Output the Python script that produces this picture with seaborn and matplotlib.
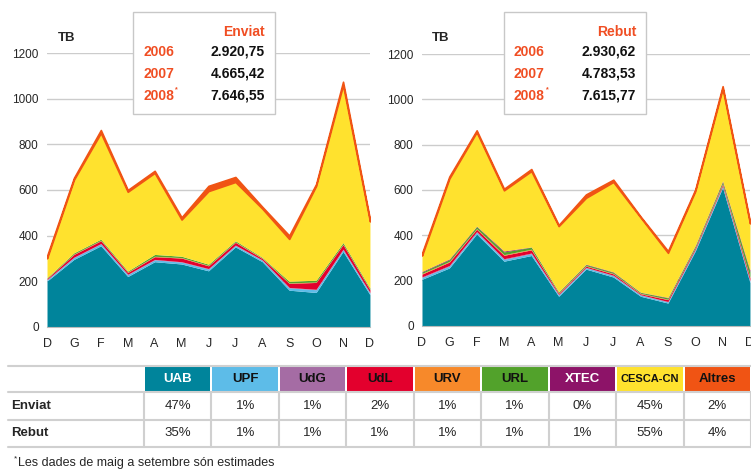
import numpy as np
import pandas as pd
import seaborn as sns
import matplotlib.pyplot as plt
from matplotlib.patches import Rectangle

# months: Dec 2007 .. Dec 2008
months = ["D", "G", "F", "M", "A", "M", "J", "J", "A", "S", "O", "N", "D"]
institutions = ["UAB", "UPF", "UdG", "UdL", "URV", "URL", "XTEC", "CESCA-CN", "Altres"]
colors = ["#00849B", "#5DBCE8", "#A56CA4", "#E3002D", "#F7892A",
          "#52A22B", "#8D1368", "#FFE22E", "#F05414"]

# Enviat (TB per month)
env_uab = [200, 295, 355, 220, 285, 275, 245, 350, 285, 160, 150, 330, 140]
env_upf = [5, 8, 8, 8, 8, 8, 8, 6, 6, 10, 12, 8, 8]
env_udg = [2, 2, 2, 2, 2, 2, 2, 2, 2, 2, 2, 2, 2]
env_udl = [4, 12, 12, 8, 12, 16, 12, 12, 6, 18, 30, 20, 12]
env_urv = [1, 2, 2, 2, 2, 2, 2, 2, 2, 2, 2, 2, 2]
env_url = [3, 5, 5, 4, 8, 6, 5, 5, 3, 7, 8, 7, 5]
env_xtec = [0, 0, 0, 0, 0, 0, 0, 0, 0, 0, 0, 0, 0]
env_cesca = [85, 321, 466, 348, 358, 161, 321, 258, 214, 186, 414, 691, 293]
env_altres = [10, 8, 13, 8, 9, 10, 23, 22, 8, 15, 8, 15, 9]

# Rebut
reb_uab = [205, 255, 405, 285, 310, 130, 250, 215, 130, 100, 330, 610, 190]
reb_upf = [8, 8, 8, 8, 8, 6, 6, 6, 5, 5, 6, 6, 6]
reb_udg = [3, 3, 3, 3, 3, 2, 2, 2, 2, 2, 2, 3, 3]
reb_udl = [12, 15, 10, 15, 14, 5, 5, 6, 4, 8, 6, 6, 12]
reb_urv = [3, 3, 3, 3, 3, 2, 2, 2, 2, 2, 2, 3, 3]
reb_url = [6, 8, 9, 12, 9, 4, 5, 5, 4, 6, 6, 8, 25]
reb_xtec = [3, 3, 2, 4, 1, 1, 2, 2, 1, 2, 3, 4, 6]
reb_cesca = [70, 355, 415, 268, 335, 290, 293, 397, 330, 197, 240, 408, 207]
reb_altres = [10, 9, 8, 7, 9, 5, 15, 10, 4, 8, 7, 10, 8]

years = ["2006", "2007", "2008"]
env_totals = ["2.920,75", "4.665,42", "7.646,55"]
reb_totals = ["2.930,62", "4.783,53", "7.615,77"]

pct_enviat = ["47%", "1%", "1%", "2%", "1%", "1%", "0%", "45%", "2%"]
pct_rebut = ["35%", "1%", "1%", "1%", "1%", "1%", "1%", "55%", "4%"]
header_text = ["white", "#111111", "#111111", "#111111", "#111111",
               "#111111", "white", "#111111", "#111111"]

enviat = pd.DataFrame(dict(zip(institutions, [env_uab, env_upf, env_udg, env_udl, env_urv,
                                              env_url, env_xtec, env_cesca, env_altres])))
rebut = pd.DataFrame(dict(zip(institutions, [reb_uab, reb_upf, reb_udg, reb_udl, reb_urv,
                                             reb_url, reb_xtec, reb_cesca, reb_altres])))

sns.set_style("white")
plt.rcParams["font.family"] = ["Liberation Sans", "DejaVu Sans"]
red = "#F04E23"

fig = plt.figure(figsize=(7.51, 4.70), dpi=100)


def area_chart(rect, df):
    ax = fig.add_axes(rect)
    x = np.arange(len(months))
    polys = ax.stackplot(x, df.T.values, colors=colors, linewidth=0)
    # top band drawn with an edge so it reads as a line, like the original
    polys[-1].set_edgecolor(colors[-1])
    polys[-1].set_linewidth(1.2)
    ax.set_xlim(0, len(months) - 1)
    ax.set_ylim(0, 1200)
    ax.set_yticks(range(0, 1201, 200))
    ax.set_xticks(x)
    ax.set_xticklabels(months, fontsize=9)
    ax.tick_params(axis="y", length=0, labelsize=8.5, pad=6)
    ax.tick_params(axis="x", length=3, color="#aaaaaa", pad=5)
    ax.yaxis.grid(True, color="#cccccc", linewidth=1)
    ax.set_axisbelow(True)
    sns.despine(ax=ax, left=True)
    ax.spines["bottom"].set_color("#bbbbbb")
    return ax


area_chart([0.0626, 0.305, 0.430, 0.5817], enviat)
area_chart([0.5619, 0.307, 0.4367, 0.578], rebut)

# overlay in pixel coordinates for boxes, table and note
ov = fig.add_axes([0, 0, 1, 1], facecolor="none")
ov.set_xlim(0, 751)
ov.set_ylim(470, 0)
ov.axis("off")


def info_box(x0, title, totals):
    ov.add_patch(Rectangle((x0, 12), 142, 102, facecolor="white",
                           edgecolor="#c8c8c8", linewidth=1))
    ov.text(x0 + 132, 32, title, color=red, fontsize=10, fontweight="bold",
            ha="right", va="center")
    for i, (yr, tot) in enumerate(zip(years, totals)):
        yy = 52 + i * 22
        ov.text(x0 + 10, yy, yr, color=red, fontsize=10, fontweight="bold", va="center")
        ov.text(x0 + 132, yy, tot, color="#111111", fontsize=10, fontweight="bold",
                ha="right", va="center")
    ov.text(x0 + 42, 90, "*", color=red, fontsize=5, fontweight="bold", va="center")


info_box(133, "Enviat", env_totals)
info_box(504, "Rebut", reb_totals)
ov.text(58, 38, "TB", fontsize=9.5, fontweight="bold", va="center")
ov.text(432, 38, "TB", fontsize=9.5, fontweight="bold", va="center")

# table
left, first_w = 8, 136
col_w = (751 - left - first_w) / len(institutions)
rows_y = [366, 392, 420, 447]
grid = "#d0d0d0"
for yy in rows_y:
    ov.plot([left, 751], [yy, yy], color=grid, linewidth=1.5)
for j in range(len(institutions) + 1):
    xx = left + first_w + j * col_w
    ov.plot([xx, xx], [rows_y[1], rows_y[3]], color=grid, linewidth=1.5)
for j, name in enumerate(institutions):
    x0 = left + first_w + j * col_w
    ov.add_patch(Rectangle((x0 + 1, 367), col_w - 2, 24, facecolor=colors[j], edgecolor="none"))
    ov.text(x0 + col_w / 2, 379, name, color=header_text[j],
            fontsize=8 if len(name) > 6 else 9.5,
            fontweight="bold", ha="center", va="center")
    ov.text(x0 + col_w / 2, 406, pct_enviat[j], fontsize=9.5, ha="center", va="center")
    ov.text(x0 + col_w / 2, 433.5, pct_rebut[j], fontsize=9.5, ha="center", va="center")
ov.text(11, 406, "Enviat", fontsize=9.5, fontweight="bold", va="center")
ov.text(11, 433.5, "Rebut", fontsize=9.5, fontweight="bold", va="center")

ov.text(14, 459, "*", fontsize=6, va="center")
ov.text(18, 463, "Les dades de maig a setembre són estimades", fontsize=9,
        va="center")

fig.savefig("out.png", dpi=100)
